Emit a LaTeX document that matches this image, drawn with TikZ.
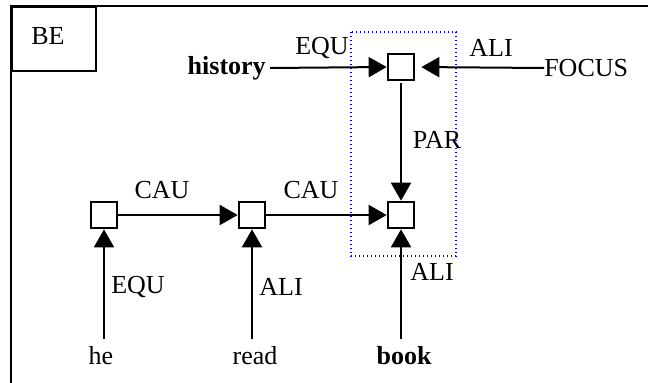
\documentclass[tikz,border=0pt]{standalone}
\usepackage{fontspec}
\setmainfont{Liberation Serif}
\usetikzlibrary{arrows.meta}
\begin{document}
\begin{tikzpicture}[x=0.75pt,y=-0.75pt,
  every node/.style={font=\fontsize{19.5}{23}\selectfont, inner sep=0pt},
  cbox/.style={draw, line width=1.5pt, minimum size=20pt, fill=white},
  link/.style={line width=1.5pt, -{Triangle[length=13.5pt,width=15pt]}}]
\useasboundingbox (0,0) rectangle (648,382);
\begin{scope}
\clip (0,0) rectangle (648,382);
\draw[line width=2pt] (11,6) rectangle (720,440);
\end{scope}
\node[draw, line width=1.5pt, minimum width=63pt, minimum height=48pt, anchor=north west] (be) at (11,6) {};
\node (betxt) at (48,36) {BE};
% dotted frame
\draw[blue, dotted, line width=1pt] (351,32) rectangle (456,256);
% boxes
\node[cbox] (t) at (401,67) {};
\node[cbox] (b3) at (401,215) {};
\node[cbox] (b1) at (104,215) {};
\node[cbox] (b2) at (252,215) {};
% words
\node[font=\fontsize{19.5}{23}\selectfont\bfseries, anchor=east] (hist) at (266,68) {history};
\node[anchor=west] (focus) at (544,68) {FOCUS};
\node (he) at (101,356) {he};
\node (read) at (255,356) {read};
\node[font=\fontsize{19.5}{23}\selectfont\bfseries] (book) at (404,356) {book};
% labels
\node (l1) at (322,48) {EQU};
\node (l2) at (491,48) {ALI};
\node (l3) at (437,140) {PAR};
\node (l4) at (162,190) {CAU};
\node (l5) at (311,190) {CAU};
\node (l6) at (138,287) {EQU};
\node (l7) at (281,287) {ALI};
\node (l8) at (432,272) {ALI};
% connectors
\draw[link] ([xshift=3pt]hist.east) -- (t.west);
\draw[link, shorten >=4.5pt] (focus.west) -- (t.east);
\draw[link] ([yshift=-1.5pt]t.south) -- (b3.north);
\draw[link] (b1.east) -- (b2.west);
\draw[link] (b2.east) -- (b3.west);
\draw[link] ([yshift=6pt]b1.south |- he.north) -- (b1.south);
\draw[link] ([yshift=6pt]b2.south |- read.north) -- (b2.south);
\draw[link] ([yshift=6pt]b3.south |- book.north) -- (b3.south);
\end{tikzpicture}
\end{document}
